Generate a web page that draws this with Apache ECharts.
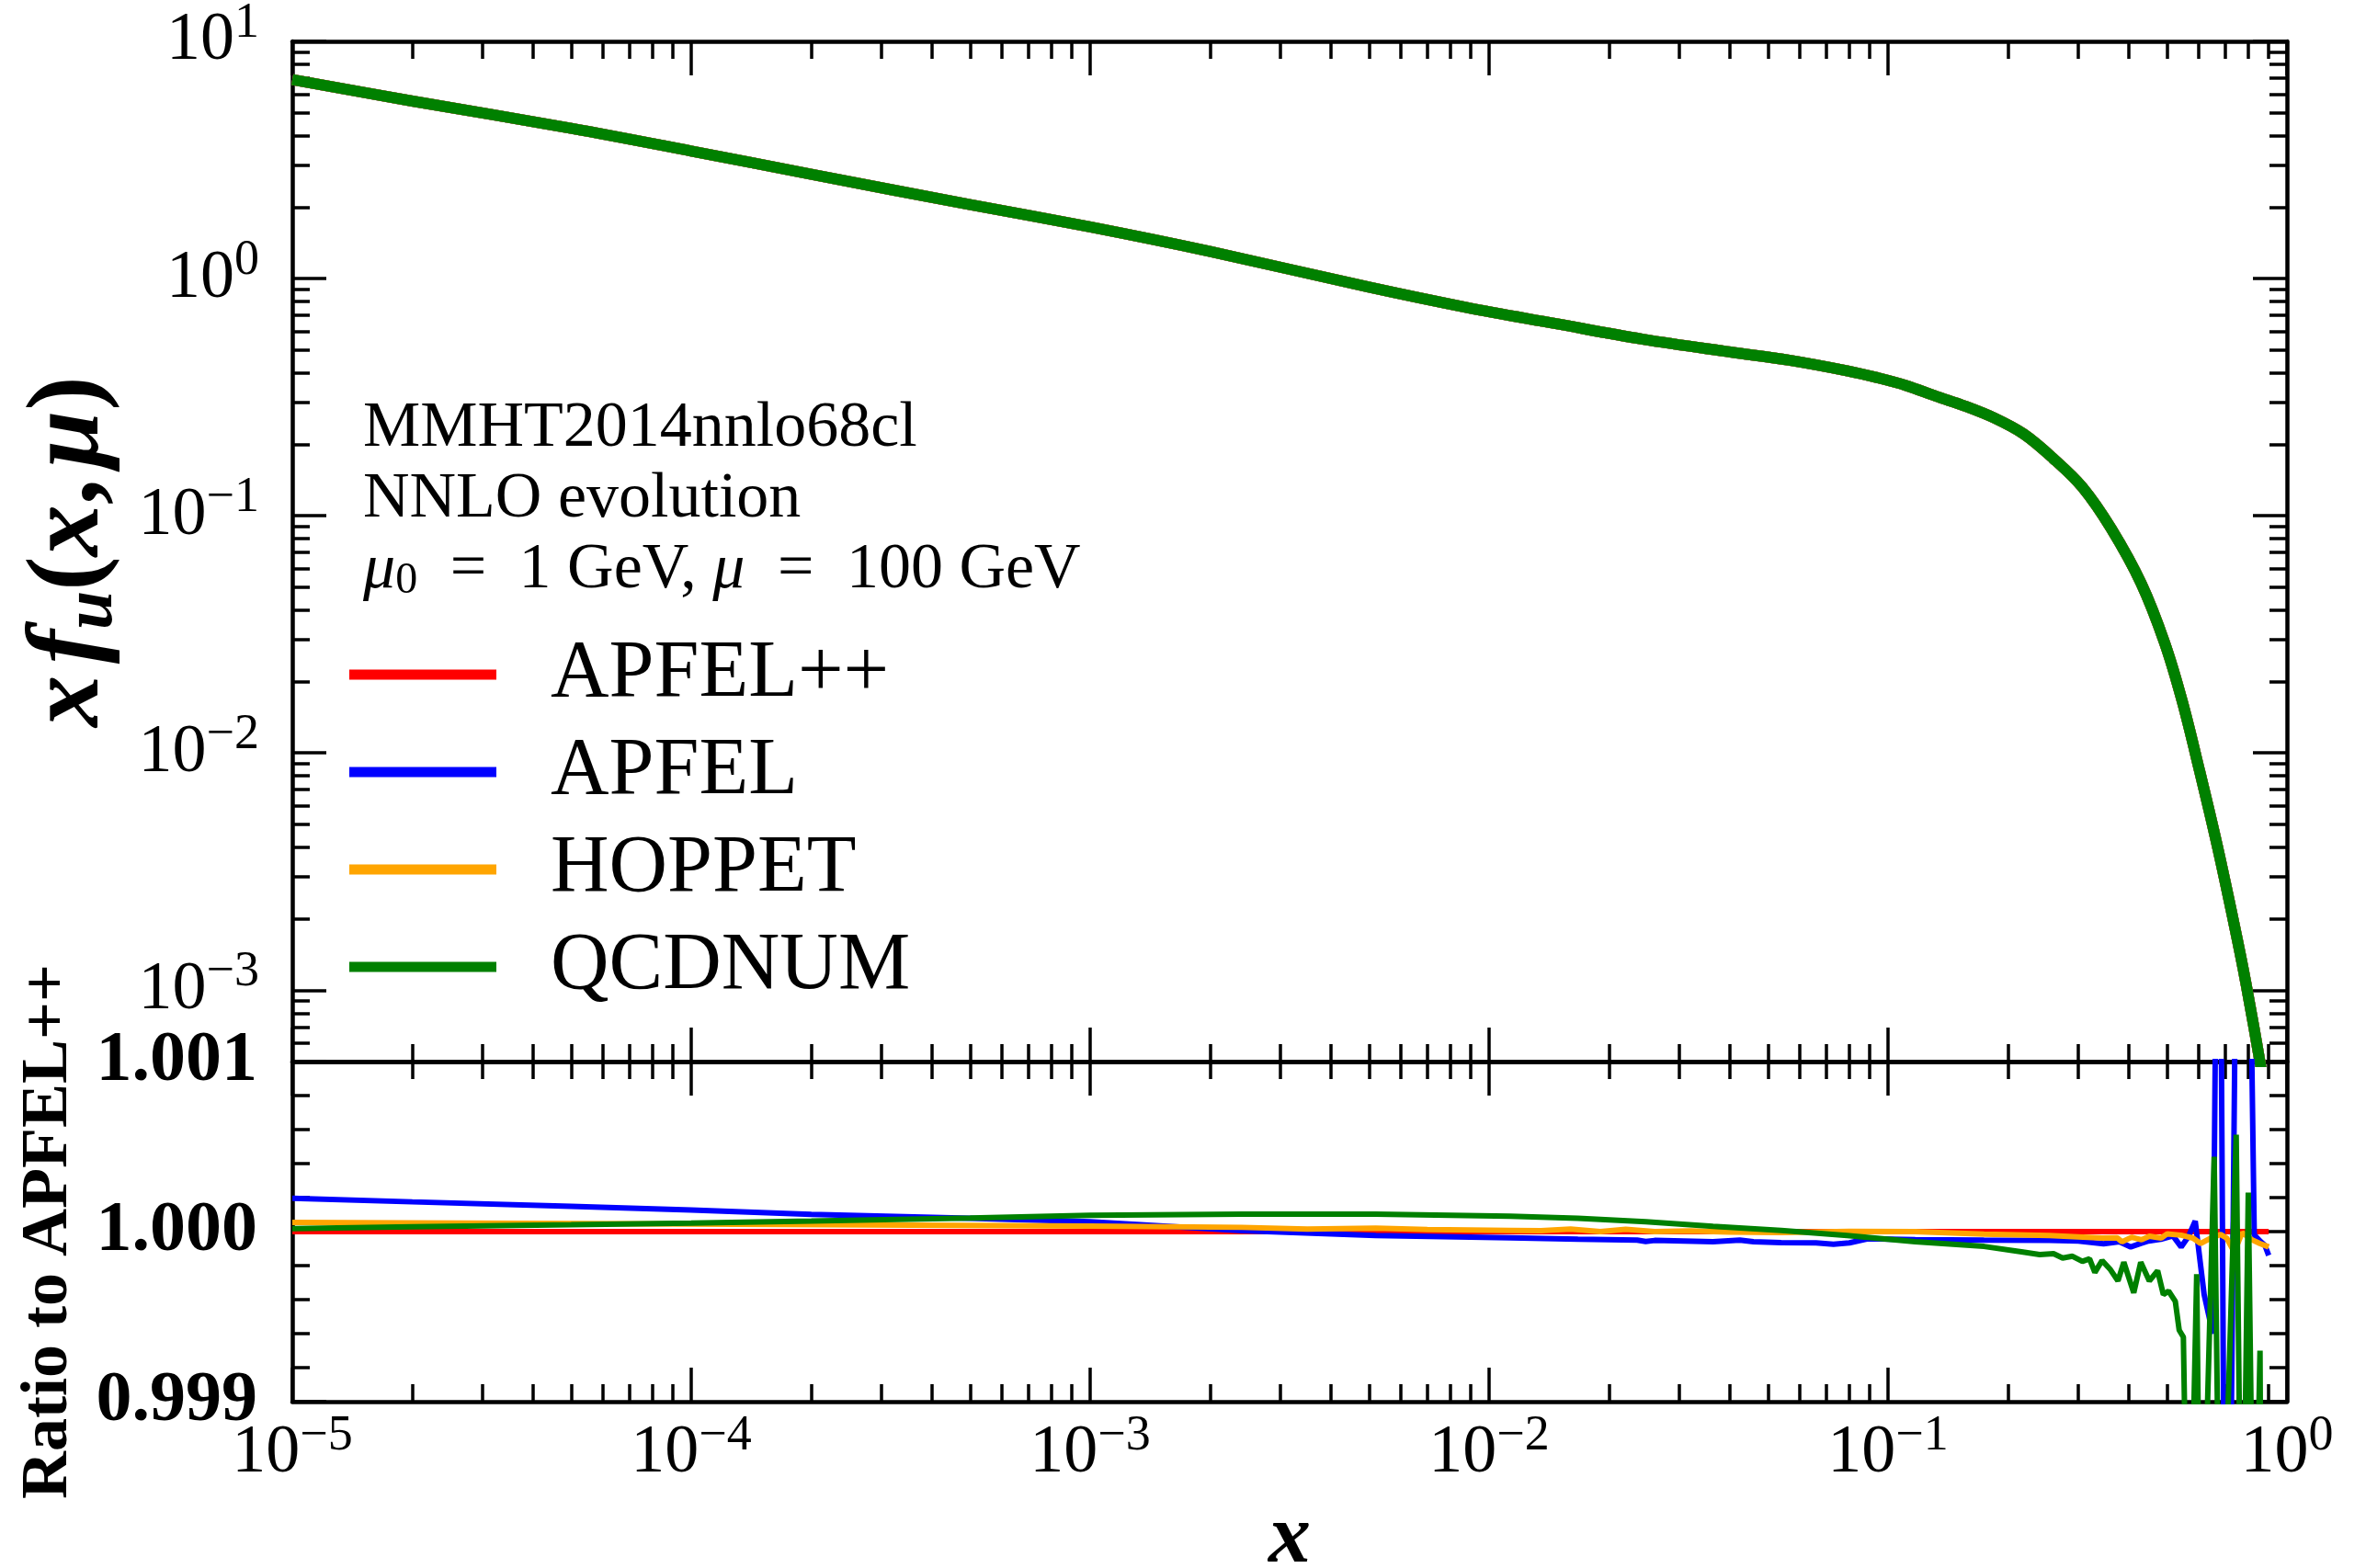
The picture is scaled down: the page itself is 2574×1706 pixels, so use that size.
<!DOCTYPE html>
<html>
<head>
<meta charset="utf-8">
<title>x f_u(x, mu) evolution comparison</title>
<script src="https://cdn.jsdelivr.net/npm/echarts@6/dist/echarts.min.js"></script>
<style>
  html, body { margin: 0; padding: 0; background: #ffffff; }
  #chart { width: 2574px; height: 1706px; }
</style>
</head>
<body>
<div id="chart"></div>
<script>
// ---- u-quark momentum density x f_u(x, mu) at mu = 100 GeV (all four codes coincide here) ----
const xfuX = [1e-5, 2e-5, 5e-5, 1e-4, 2e-4, 5e-4, 1e-3, 2e-3, 5e-3, 8.8e-3, 0.0146, 0.0243, 0.0403, 0.0565,
              0.0793, 0.094, 0.111, 0.132, 0.156, 0.185, 0.219, 0.259, 0.307, 0.363, 0.431, 0.493, 0.546,
              0.604, 0.668, 0.739, 0.79, 0.861, 0.88];
const xfuV = [6.9, 5.6, 4.3, 3.45, 2.75, 2.05, 1.65, 1.30, 0.92, 0.755, 0.647, 0.555, 0.49, 0.453,
              0.408, 0.382, 0.354, 0.319, 0.290, 0.258, 0.221, 0.175, 0.132, 0.088, 0.0519, 0.0293, 0.0166,
              0.0084, 0.0041, 0.00186, 0.00106, 0.00047, 0.00037];

// ---- ratios to APFEL++ ----
const apfelppX = [1e-5, 0.9];
const apfelppR = [1.0, 1.0];

const apfelX = [1e-5, 2e-5, 5e-5, 1e-4, 2e-4, 5e-4, 1e-3, 2.4e-3, 5.2e-3, 0.0113, 0.0167, 0.0235, 0.0247, 0.026,
                0.0364, 0.0425, 0.046, 0.054, 0.066, 0.073, 0.080, 0.089, 0.117, 0.174, 0.254, 0.30, 0.347, 0.38,
                0.406, 0.43, 0.45, 0.483, 0.518, 0.543, 0.566, 0.589, 0.62, 0.652, 0.675, 0.706, 0.757, 0.795,
                0.828, 0.86, 0.88, 0.9];
const apfelR = [1.000196, 1.000175, 1.000148, 1.000127, 1.000102, 1.000078, 1.000058, 1.000005, 0.999977, 0.999964,
                0.999955, 0.999950, 0.999942, 0.999948, 0.999940, 0.999950, 0.999940, 0.999935, 0.999934, 0.999926,
                0.999934, 0.999958, 0.999953, 0.999950, 0.999948, 0.999945, 0.999928, 0.999940, 0.999910, 0.999930,
                0.999945, 0.999955, 0.999975, 0.999910, 0.999970, 1.000062, 0.999630, 0.999400, 1.003500, 0.996000,
                1.003500, 1.003000, 0.999980, 0.999940, 0.999920, 0.999860];

const hoppetX = [1e-5, 1e-4, 1e-3, 2.4e-3, 3.5e-3, 5.2e-3, 7e-3, 0.0113, 0.0135, 0.016, 0.019, 0.022, 0.026, 0.032,
                 0.040, 0.054, 0.08, 0.117, 0.174, 0.254, 0.344, 0.375, 0.386, 0.408, 0.432, 0.452, 0.484, 0.501,
                 0.543, 0.581, 0.608, 0.644, 0.682, 0.706, 0.738, 0.772, 0.817, 0.856, 0.9];
const hoppetR = [1.000054, 1.000045, 1.000033, 1.000025, 1.000015, 1.000020, 1.000012, 1.000007, 1.000005, 1.000015,
                 1.000000, 1.000014, 1.000000, 1.000004, 0.999997, 0.999995, 1.000002, 1.000000, 0.999985, 0.999977,
                 0.999962, 0.999964, 0.999940, 0.999967, 0.999952, 0.999973, 0.999962, 0.999987, 0.999979, 0.999962,
                 0.999930, 0.999962, 0.999983, 0.999962, 0.999880, 0.999994, 0.999952, 0.999930, 0.999910];

const qcdnumX = [1e-5, 2e-5, 5e-5, 1e-4, 2e-4, 5e-4, 1e-3, 2.4e-3, 5.2e-3, 0.0113, 0.0167, 0.0247, 0.0364, 0.054,
                 0.079, 0.117, 0.174, 0.218, 0.24, 0.26, 0.274, 0.29, 0.307, 0.32, 0.33, 0.344, 0.36, 0.377, 0.39,
                 0.413, 0.43, 0.452, 0.474, 0.49, 0.505, 0.525, 0.537, 0.55, 0.567, 0.594, 0.608, 0.657, 0.682,
                 0.746, 0.772, 0.80, 0.828, 0.856, 0.864];
const qcdnumR = [1.000018, 1.000028, 1.000040, 1.000050, 1.000062, 1.000080, 1.000096, 1.000103, 1.000103, 1.000090,
                 1.000079, 1.000058, 1.000031, 1.000007, 0.999977, 0.999940, 0.999913, 0.999880, 0.999865, 0.999870,
                 0.999845, 0.999855, 0.999825, 0.999840, 0.999760, 0.999830, 0.999780, 0.999710, 0.999820, 0.999640,
                 0.999820, 0.999710, 0.999770, 0.999630, 0.999650, 0.999590, 0.999420, 0.999380, 0.997500, 0.999750,
                 0.997500, 1.000440, 0.997500, 1.000570, 0.997500, 1.000230, 0.997500, 0.999300, 0.997500];

// ---- legend entries, colours, tick labels ----
const codeNames  = ['APFEL++', 'APFEL', 'HOPPET', 'QCDNUM'];
const codeColors = ['#ff0000', '#0000ff', '#ffa500', '#008000'];
const xTickExps  = [-5, -4, -3, -2, -1, 0];
const yTickExps  = [-3, -2, -1, 0, 1];
const ratioTicks = [0.999, 1.000, 1.001];
const ratioMinor = [0.9992, 0.9994, 0.9996, 0.9998, 1.0002, 1.0004, 1.0006, 1.0008];

// ---- axis ranges (x and x f_u are drawn on decades) ----
const X_MIN = -5, X_MAX = 0;
const Y_MIN = Math.log10(5e-4), Y_MAX = 1;
const R_MIN = 0.999, R_MAX = 1.001;

const SERIF = "'Liberation Serif', 'DejaVu Serif', serif";
const BLACK = '#000000';

// log-spaced minor tick positions (2..9 within each decade)
const xMinor = [];
for (let n = -5; n <= -1; n++) for (let k = 2; k <= 9; k++) xMinor.push(n + Math.log10(k));
const yMinor = [];
for (let n = -4; n <= 0; n++) for (let k = 2; k <= 9; k++) {
  const v = n + Math.log10(k);
  if (v >= Y_MIN - 1e-9 && v <= Y_MAX) yMinor.push(v);
}

const sup = e => (e < 0 ? '\u2212' + (-e) : String(e));
const powLabel = v => '{b|10}{s|' + sup(Math.round(v)) + '}';
const tickRich = {
  b: { fontFamily: SERIF, fontSize: 74, lineHeight: 74, color: BLACK },
  s: { fontFamily: SERIF, fontSize: 54, lineHeight: 54, padding: [0, 0, 38, 0], color: BLACK }
};

function axis(dim, gridIndex, position, min, max, ticks, len, showLine, extra) {
  return Object.assign({
    type: 'value', gridIndex, position, min, max,
    axisLine: { show: showLine, onZero: false, lineStyle: { color: BLACK, width: 4.5 } },
    axisTick: { show: true, inside: true, length: len, customValues: ticks,
                lineStyle: { color: BLACK, width: 3.5 } },
    axisLabel: { show: false },
    splitLine: { show: false },
    splitArea: { show: false },
    silent: true
  }, extra || {});
}

const MAJ = 37, MIN = 19;
const xMajor = xTickExps.slice();
const yMajor = yTickExps.slice();

const xAxes = [
  // top panel
  axis('x', 0, 'bottom', X_MIN, X_MAX, xMajor, MAJ, true),
  axis('x', 0, 'bottom', X_MIN, X_MAX, xMinor, MIN, false),
  axis('x', 0, 'top',    X_MIN, X_MAX, xMajor, MAJ, true),
  axis('x', 0, 'top',    X_MIN, X_MAX, xMinor, MIN, false),
  // ratio panel
  axis('x', 1, 'bottom', X_MIN, X_MAX, xMajor, MAJ, true, {
    axisLabel: { show: true, customValues: xTickExps, formatter: powLabel, rich: tickRich, margin: 20 },
    name: '{i|x}', nameLocation: 'middle', nameGap: 95,
    nameTextStyle: { rich: { i: { fontFamily: SERIF, fontStyle: 'italic', fontWeight: 'bold',
                                  fontSize: 92, lineHeight: 92, color: BLACK } } }
  }),
  axis('x', 1, 'bottom', X_MIN, X_MAX, xMinor, MIN, false),
  axis('x', 1, 'top',    X_MIN, X_MAX, xMajor, MAJ, true),
  axis('x', 1, 'top',    X_MIN, X_MAX, xMinor, MIN, false)
];

const titleRich = {
  i:  { fontFamily: SERIF, fontStyle: 'italic', fontWeight: 'bold', fontSize: 112, lineHeight: 130, color: BLACK },
  u:  { fontFamily: SERIF, fontStyle: 'italic', fontWeight: 'bold', fontSize: 76, lineHeight: 76,
        padding: [48, 0, 0, 0], color: BLACK },
  p:  { fontFamily: SERIF, fontWeight: 'bold', fontSize: 112, lineHeight: 130, color: BLACK },
  sp: { fontFamily: SERIF, fontSize: 50, lineHeight: 50, color: BLACK }
};

const yAxes = [
  axis('y', 0, 'left',  Y_MIN, Y_MAX, yMajor, MAJ, true, {
    axisLabel: { show: true, customValues: yTickExps, formatter: powLabel, rich: tickRich, margin: 36 },
    name: '{i|x}{sp| }{i|f}{u|u}{p|(}{i|x}{p|,}{sp| }{i|\u03bc}{p|)}',
    nameLocation: 'middle', nameGap: 176,
    nameTextStyle: { rich: titleRich }
  }),
  axis('y', 0, 'left',  Y_MIN, Y_MAX, yMinor, MIN, false),
  axis('y', 0, 'right', Y_MIN, Y_MAX, yMajor, MAJ, true),
  axis('y', 0, 'right', Y_MIN, Y_MAX, yMinor, MIN, false),
  axis('y', 1, 'left',  R_MIN, R_MAX, ratioTicks, MAJ, true, {
    axisLabel: { show: true, customValues: ratioTicks, formatter: v => v.toFixed(3), margin: 38,
                 fontFamily: SERIF, fontWeight: 'bold', fontSize: 78, color: BLACK },
    name: 'Ratio to APFEL++', nameLocation: 'middle', nameGap: 224,
    nameTextStyle: { fontFamily: SERIF, fontWeight: 'bold', fontSize: 72, lineHeight: 80, color: BLACK }
  }),
  axis('y', 1, 'left',  R_MIN, R_MAX, ratioMinor, MIN, false),
  axis('y', 1, 'right', R_MIN, R_MAX, ratioTicks, MAJ, true),
  axis('y', 1, 'right', R_MIN, R_MAX, ratioMinor, MIN, false)
];

const logPts   = (xs, vs) => xs.map((x, i) => [Math.log10(x), Math.log10(vs[i])]);
const ratioPts = (xs, rs) => xs.map((x, i) => [Math.log10(x), rs[i]]);

const ratioSets = [[apfelppX, apfelppR], [apfelX, apfelR], [hoppetX, hoppetR], [qcdnumX, qcdnumR]];

const series = [];
codeNames.forEach((name, i) => {
  series.push({
    type: 'line', name, xAxisIndex: 0, yAxisIndex: 0,
    data: logPts(xfuX, xfuV),
    symbol: 'none', smooth: 0.35, clip: true, silent: true,
    lineStyle: { color: codeColors[i], width: 12, join: 'round' }, itemStyle: { color: codeColors[i] }
  });
});
codeNames.forEach((name, i) => {
  series.push({
    type: 'line', name, xAxisIndex: 4, yAxisIndex: 4,
    data: ratioPts(ratioSets[i][0], ratioSets[i][1]),
    symbol: 'none', clip: true, silent: true,
    lineStyle: { color: codeColors[i], width: 6 }, itemStyle: { color: codeColors[i] }
  });
});

const noteRich = {
  m:  { fontFamily: SERIF, fontStyle: 'italic', fontSize: 70, lineHeight: 77, color: BLACK },
  sb: { fontFamily: SERIF, fontSize: 48, lineHeight: 48, padding: [24, 0, 0, 0], color: BLACK },
  eq: { fontFamily: SERIF, fontSize: 70, lineHeight: 77, padding: [0, 18, 0, 18], color: BLACK }
};

const option = {
  backgroundColor: '#ffffff',
  animation: false,
  textStyle: { fontFamily: SERIF, color: BLACK },
  grid: [
    { left: 318, top: 45, width: 2170, height: 1110, outerBoundsMode: 'none', containLabel: false },
    { left: 318, top: 1155, width: 2170, height: 370, outerBoundsMode: 'none', containLabel: false }
  ],
  title: {
    left: 395, top: 428, padding: 0,
    text: 'MMHT2014nnlo68cl\nNNLO evolution\n{m|\u03bc}{sb|0} {eq|=} 1 GeV, {m|\u03bc} {eq|=} 100 GeV',
    textStyle: { fontFamily: SERIF, fontWeight: 'normal', fontSize: 70, lineHeight: 77, color: BLACK,
                 rich: noteRich }
  },
  legend: {
    data: codeNames, orient: 'vertical', left: 380, top: 690, padding: 0,
    icon: 'rect', itemWidth: 160, itemHeight: 11, itemGap: 18, selectedMode: false,
    textStyle: { fontFamily: SERIF, fontSize: 88, lineHeight: 80, color: BLACK, padding: [0, 0, 0, 54] }
  },
  xAxis: xAxes,
  yAxis: yAxes,
  series
};

const chart = echarts.init(document.getElementById('chart'), null, { renderer: 'canvas', width: 2574, height: 1706 });
chart.setOption(option);
</script>
</body>
</html>
